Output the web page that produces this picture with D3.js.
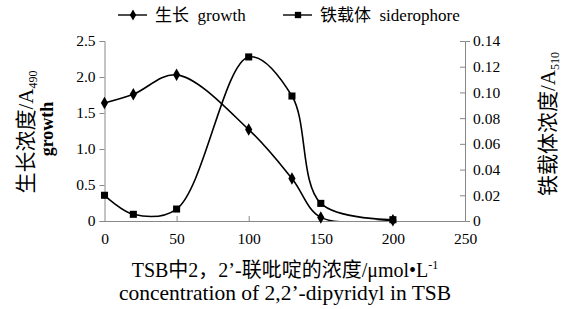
<!DOCTYPE html>
<html>
<head>
<meta charset="utf-8">
<script src="https://cdn.jsdelivr.net/npm/d3@7"></script>
<style>
  body { margin: 0; background: #fff; }
  text { font-family: "Liberation Serif", "Noto Sans CJK SC", serif; fill: #000; }
</style>
</head>
<body>
<div id="chart"></div>
<script>
// data
const conc = [0, 20, 50, 100, 130, 150, 200];
const growth = [1.64, 1.76, 2.03, 1.27, 0.59, 0.05, 0.01];
const siderophore = [0.020, 0.0052, 0.0093, 0.1276, 0.0972, 0.0137, 0.001];
const xTicks = [0, 50, 100, 150, 200, 250];
const leftTicks = [0, 0.5, 1.0, 1.5, 2.0, 2.5];
const rightTicks = [0, 0.02, 0.04, 0.06, 0.08, 0.10, 0.12, 0.14];

const width = 567, height = 309;
const margin = { top: 41, right: 102, bottom: 88, left: 104.5 };
const w = width - margin.left - margin.right;
const h = height - margin.top - margin.bottom;

const svg = d3.select('#chart').append('svg')
  .attr('width', width)
  .attr('height', height);

const x = d3.scaleLinear().domain([0, 250]).range([0, w]);
const yL = d3.scaleLinear().domain([0, 2.5]).range([h, 0]);
const yR = d3.scaleLinear().domain([0, 0.14]).range([h, 0]);

const g = svg.append('g')
  .attr('transform', 'translate(' + margin.left + ',' + margin.top + ')');

svg.append('clipPath').attr('id', 'clip')
  .append('rect').attr('x', 0).attr('y', -10).attr('width', w).attr('height', h + 10);

// axes
const axisColor = '#888';
const xAxis = g.append('g').attr('transform', 'translate(0,' + h + ')')
  .call(d3.axisBottom(x).tickValues(xTicks).tickSizeInner(-5).tickSizeOuter(0).tickPadding(12));
const leftAxis = g.append('g')
  .call(d3.axisLeft(yL).tickValues(leftTicks).tickSize(5)
    .tickFormat(d => d === 0 ? '0' : d3.format('.1f')(d)).tickPadding(4));
const rightAxis = g.append('g').attr('transform', 'translate(' + w + ',0)')
  .call(d3.axisRight(yR).tickValues(rightTicks).tickSizeInner(-5).tickSizeOuter(5)
    .tickFormat(d => d === 0 ? '0' : d3.format('.2f')(d)).tickPadding(8));

[xAxis, leftAxis, rightAxis].forEach(a => {
  a.select('.domain').attr('stroke', axisColor);
  a.selectAll('.tick line').attr('stroke', axisColor);
  a.selectAll('.tick text').attr('font-size', 15.5).attr('font-family', '"Liberation Serif", serif');
});
xAxis.selectAll('.tick line').filter(d => d === 0).remove();

// lines
const curve = d3.curveCatmullRom.alpha(0.5);
const lineG = d3.line().x((d, i) => x(conc[i])).y(d => yL(d)).curve(curve);
const lineS = d3.line().x((d, i) => x(conc[i])).y(d => yR(d)).curve(curve);

g.append('path').attr('clip-path', 'url(#clip)')
  .attr('d', lineG(growth))
  .attr('fill', 'none').attr('stroke', '#000').attr('stroke-width', 1.6);
g.append('path').attr('clip-path', 'url(#clip)')
  .attr('d', lineS(siderophore))
  .attr('fill', 'none').attr('stroke', '#000').attr('stroke-width', 1.6);

const diamond = d3.symbol().type(d3.symbolDiamond).size(45);
const square = d3.symbol().type(d3.symbolSquare).size(50);

g.selectAll('.sq').data(siderophore).enter().append('path')
  .attr('class', 'sq')
  .attr('transform', (d, i) => 'translate(' + x(conc[i]) + ',' + yR(d) + ')')
  .attr('d', square).attr('fill', '#000');
g.selectAll('.dm').data(growth).enter().append('path')
  .attr('class', 'dm')
  .attr('transform', (d, i) => 'translate(' + x(conc[i]) + ',' + yL(d) + ')')
  .attr('d', diamond).attr('fill', '#000');

// legend
const legend = svg.append('g').attr('transform', 'translate(0,15)');
const items = [
  { x: 118, sym: d3.symbol().type(d3.symbolDiamond).size(35), label: '生长  growth' },
  { x: 283, sym: d3.symbol().type(d3.symbolSquare).size(40), label: '铁载体  siderophore' }
];
items.forEach(it => {
  legend.append('line').attr('x1', it.x).attr('x2', it.x + 29)
    .attr('stroke', '#000').attr('stroke-width', 1.4);
  legend.append('path').attr('transform', 'translate(' + (it.x + 15) + ',0)')
    .attr('d', it.sym).attr('fill', '#000');
  legend.append('text').attr('x', it.x + 37).attr('y', 6)
    .attr('font-size', 17).attr('xml:space', 'preserve').text(it.label);
});

// axis titles
svg.append('text')
  .attr('transform', 'translate(33,132) rotate(-90)')
  .attr('text-anchor', 'middle').attr('font-size', 21)
  .html('生长浓度/A<tspan font-size="12" dy="4">490</tspan>');
svg.append('text')
  .attr('transform', 'translate(53,129) rotate(-90)')
  .attr('text-anchor', 'middle').attr('font-size', 18).attr('font-weight', 'bold')
  .text('growth');
svg.append('text')
  .attr('transform', 'translate(555,124) rotate(-90)')
  .attr('text-anchor', 'middle').attr('font-size', 21)
  .html('铁载体浓度/A<tspan font-size="12" dy="4">510</tspan>');

svg.append('text').attr('x', 285).attr('y', 277)
  .attr('text-anchor', 'middle').attr('font-size', 20)
  .html('TSB中2，2’-联吡啶的浓度/μmol•L<tspan font-size="12" dy="-8">-1</tspan>');
svg.append('text').attr('x', 285).attr('y', 300)
  .attr('text-anchor', 'middle').attr('font-size', 21.5)
  .text('concentration of 2,2’-dipyridyl in TSB');
</script>
</body>
</html>
